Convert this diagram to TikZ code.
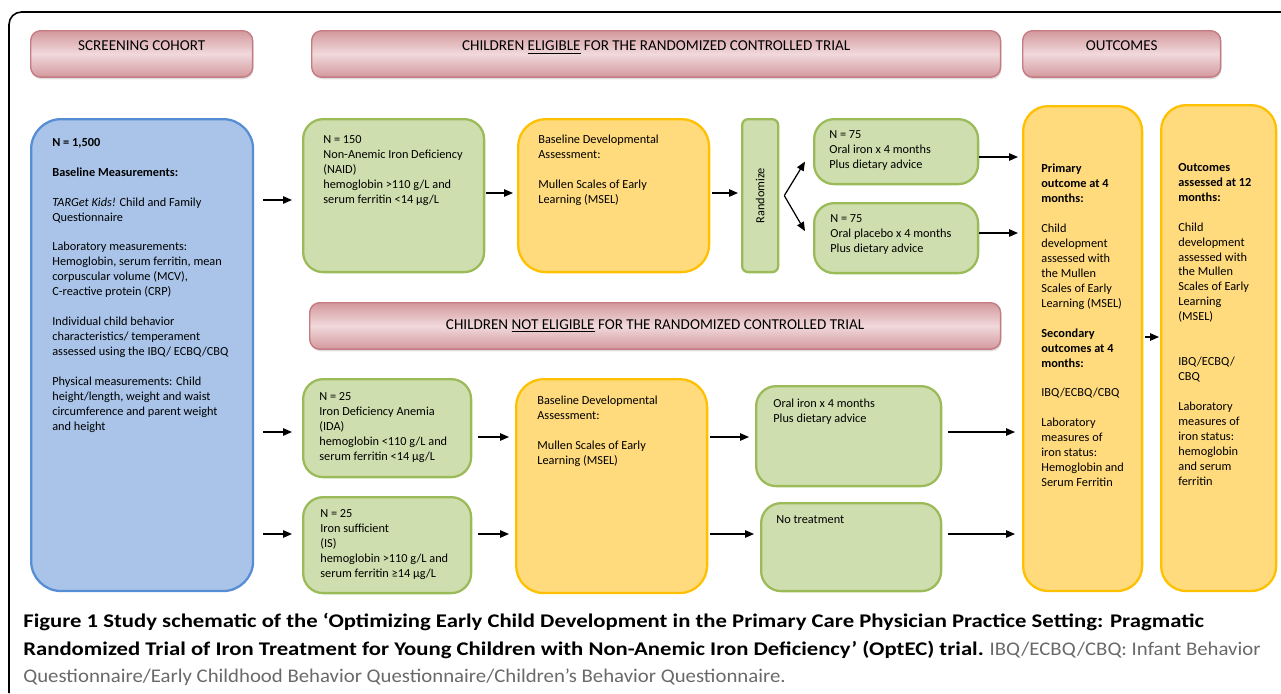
\documentclass[tikz,border=0pt]{standalone}
\usepackage{fontspec}
\setmainfont{Carlito}
\newfontfamily\capbold[FakeStretch=1.175]{Carlito}
\newfontfamily\capreg[FakeStretch=1.075]{Carlito}
\usetikzlibrary{arrows.meta, shadows, positioning, calc}

\definecolor{blufill}{RGB}{169,196,232}
\definecolor{bluline}{RGB}{86,141,212}
\definecolor{grnfill}{RGB}{207,222,174}
\definecolor{grnline}{RGB}{155,187,89}
\definecolor{ylwfill}{RGB}{255,219,126}
\definecolor{ylwline}{RGB}{255,192,0}
\definecolor{banline}{RGB}{196,124,130}
\definecolor{banA}{RGB}{211,152,157}
\definecolor{banB}{RGB}{241,217,219}
\definecolor{capgray}{RGB}{105,105,105}

\begin{document}
\begin{tikzpicture}[x=0.02cm, y=-0.02cm,
        every node/.style={font=\fontsize{7}{8.5}\selectfont},
        bx/.style={anchor=north west, draw, line width=1.3pt, inner sep=0},
        blu/.style={bx, fill=blufill, draw=bluline, rounded corners=0.6cm},
        grn/.style={bx, fill=grnfill, draw=grnline, rounded corners=0.4cm},
        ylw/.style={bx, fill=ylwfill, draw=ylwline, rounded corners=0.55cm},
        ban/.style={bx, draw=banline, line width=0.8pt, rounded corners=0.2cm,
          top color=banA, bottom color=banA, middle color=banB,
          drop shadow={shadow xshift=0.5pt, shadow yshift=-1.2pt, opacity=0.25},
          font=\fontsize{8.6}{10}\selectfont, minimum height=0.93cm},
        topban/.style={ban, text height=0.2cm, text depth=0.32cm},
        txt/.style={anchor=north west, inner sep=0, align=left},
        e/.style={-{Triangle[length=0.18cm, width=0.15cm]}, line width=0.7pt,
          shorten <=0.12cm, shorten >=0.12cm}]
  \useasboundingbox (0,0) rectangle (1281,693);
  \draw[line width=0.9pt, rounded corners=0.25cm] (9,693) -- (9,12) -- (1281,12);

  % headers
  \node[topban, minimum width=4.44cm] (screen) at (30,30) {SCREENING COHORT};
  \node[topban, minimum width=13.78cm] (elig) at (311,30) {CHILDREN \underline{ELIGIBLE} FOR THE RANDOMIZED CONTROLLED TRIAL};
  \node[topban, minimum width=3.96cm] (outc) at (1022,30) {OUTCOMES};
  \node[ban, minimum width=13.82cm] (notel) at (309,302) {CHILDREN \underline{NOT ELIGIBLE} FOR THE RANDOMIZED CONTROLLED TRIAL};

  % boxes
  \node[blu, minimum width=4.44cm, minimum height=9.44cm] (cohort) at (30,118) {};
  \node[grn, minimum width=3.62cm, minimum height=3.06cm] (naid) at (302,118) {};
  \node[ylw, minimum width=3.82cm, minimum height=3.06cm] (base1) at (517,118) {};
  \node[grn, rounded corners=0.12cm, minimum width=0.72cm, minimum height=3.06cm] (rand) at (741,118) {\rotatebox{90}{Randomize}};
  \node[grn, minimum width=3.28cm, minimum height=1.30cm] (iron) at (813,118) {};
  \node[grn, minimum width=3.28cm, minimum height=1.40cm] (plac) at (813,202) {};
  \node[ylw, rounded corners=0.5cm, minimum width=2.38cm, minimum height=9.70cm] (out4) at (1022,105) {};
  \node[ylw, rounded corners=0.5cm, minimum width=2.30cm, minimum height=9.72cm] (out12) at (1160,104) {};
  \node[grn, minimum width=3.36cm, minimum height=1.96cm] (ida) at (302,378) {};
  \node[grn, minimum width=3.36cm, minimum height=1.92cm] (is) at (302,496) {};
  \node[ylw, minimum width=3.82cm, minimum height=4.28cm] (base2) at (515,378) {};
  \node[grn, minimum width=3.70cm, minimum height=2.00cm] (oral) at (755,385) {};
  \node[grn, minimum width=3.60cm, minimum height=1.76cm] (none) at (760,502) {};

  % box texts
  \node[txt] (cohort-t) at (52,138) {\textbf{N = 1,500}\\[8.5pt]
    \textbf{Baseline Measurements:}\\[8.5pt]
    \textit{TARGet Kids!} Child and Family\\ Questionnaire\\[8.5pt]
    Laboratory measurements:\\ Hemoglobin, serum ferritin, mean\\ corpuscular volume (MCV),\\ C-reactive protein (CRP)\\[8.5pt]
    Individual child behavior\\ characteristics/ temperament\\ assessed using the IBQ/ ECBQ/CBQ\\[8.5pt]
    Physical measurements: Child\\ height/length, weight and waist\\ circumference and parent weight\\ and height};
  \node[txt] (naid-t) at (323,135) {N = 150\\ Non-Anemic Iron Deficiency\\ (NAID)\\ hemoglobin >110 g/L and\\ serum ferritin <14 µg/L};
  \node[txt] (base1-t) at (538,135) {Baseline Developmental\\ Assessment:\\[8.5pt] Mullen Scales of Early\\ Learning (MSEL)};
  \node[txt] (iron-t) at (829,130) {N = 75\\ Oral iron x 4 months\\ Plus dietary advice};
  \node[txt] (plac-t) at (830,214) {N = 75\\ Oral placebo x 4 months\\ Plus dietary advice};
  \node[txt] (out4-t) at (1041,164) {\textbf{Primary}\\ \textbf{outcome at 4}\\ \textbf{months:}\\[8.5pt]
    Child\\ development\\ assessed with\\ the Mullen\\ Scales of Early\\ Learning (MSEL)\\[8.5pt]
    \textbf{Secondary}\\ \textbf{outcomes at 4}\\ \textbf{months:}\\[8.5pt]
    IBQ/ECBQ/CBQ\\[8.5pt]
    Laboratory\\ measures of\\ iron status:\\ Hemoglobin and\\ Serum Ferritin};
  \node[txt] (out12-t) at (1178,163) {\textbf{Outcomes}\\ \textbf{assessed at 12}\\ \textbf{months:}\\[8.5pt]
    Child\\ development\\ assessed with\\ the Mullen\\ Scales of Early\\ Learning\\ (MSEL)\\[17pt]
    IBQ/ECBQ/\\ CBQ\\[8.5pt]
    Laboratory\\ measures of\\ iron status:\\ hemoglobin\\ and serum\\ ferritin};
  \node[txt] (ida-t) at (319,392) {N = 25\\ Iron Deficiency Anemia\\ (IDA)\\ hemoglobin <110 g/L and\\ serum ferritin <14 µg/L};
  \node[txt] (is-t) at (320,509) {N = 25\\ Iron sufficient\\ (IS)\\ hemoglobin >110 g/L and\\ serum ferritin ≥14 µg/L};
  \node[txt] (base2-t) at (537,396) {Baseline Developmental\\ Assessment:\\[8.5pt] Mullen Scales of Early\\ Learning (MSEL)};
  \node[txt] (oral-t) at (773,399) {Oral iron x 4 months\\ Plus dietary advice};
  \node[txt] (none-t) at (776,515) {No treatment};

  % rows for the arrows
  \coordinate (rA) at (0,200);
  \coordinate (rB) at (0,193);
  \coordinate (rC) at (0,157);
  \coordinate (rD) at (0,233);
  \coordinate (rE) at (0,432);
  \coordinate (rF) at (0,437);
  \coordinate (rG) at (0,534);
  \coordinate (rH) at (0,337);

  \draw[e, shorten <=0.18cm, shorten >=0.2cm] (cohort.east |- rA) -- (naid.west |- rA);
  \draw[e, shorten <=0.18cm, shorten >=0.2cm] (cohort.east |- rE) -- (ida.west |- rE);
  \draw[e, shorten <=0.18cm, shorten >=0.2cm] (cohort.east |- rG) -- (is.west |- rG);
  \draw[e, shorten <=0.02cm, shorten >=0.08cm] (naid.east |- rB) -- (base1.west |- rB);
  \draw[e, shorten <=0.04cm, shorten >=0.06cm] (base1.east |- rB) -- (rand.west |- rB);

  \coordinate (fork) at ([xshift=0.1cm]rand.east);
  \draw[e, shorten <=0cm, shorten >=0cm] (fork) -- ([shift={(-8,10)}]iron.west);
  \draw[e, shorten <=0cm, shorten >=0cm] (fork) -- ([shift={(-8,-7)}]plac.west);

  \draw[e, shorten <=0cm, shorten >=0.08cm] (iron.east |- rC) -- (out4.west |- rC);
  \draw[e, shorten <=0cm, shorten >=0.08cm] (plac.east |- rD) -- (out4.west |- rD);
  \draw[e] (ida.east |- rF) -- (base2.west |- rF);
  \draw[e] (is.east |- rG) -- (base2.west |- rG);
  \draw[e, shorten <=0.04cm] (base2.east |- rF) -- (oral.west |- rF);
  \draw[e, shorten <=0.04cm] (base2.east |- rG) -- (none.west |- rG);
  \draw[e, shorten >=0.14cm] (oral.east |- rE) -- (out4.west |- rE);
  \draw[e, shorten >=0.14cm] (none.east |- rG) -- (out4.west |- rG);
  \draw[e, shorten <=0.04cm, shorten >=0.02cm] (out4.east |- rH) -- (out12.west |- rH);

  % caption
  \node[txt, font=\fontsize{11}{15.6}\selectfont] (caption) at (23,613) {{\capbold\bfseries Figure 1 Study schematic of the ‘Optimizing Early Child Development in the Primary Care Physician Practice Setting: Pragmatic}\\
    {\capbold\bfseries Randomized Trial of Iron Treatment for Young Children with Non-Anemic Iron Deficiency’ (OptEC) trial.} {\capreg\color{capgray}IBQ/ECBQ/CBQ: Infant Behavior}\\
    {\capreg\color{capgray}Questionnaire/Early Childhood Behavior Questionnaire/Children’s Behavior Questionnaire.}};
\end{tikzpicture}
\end{document}
